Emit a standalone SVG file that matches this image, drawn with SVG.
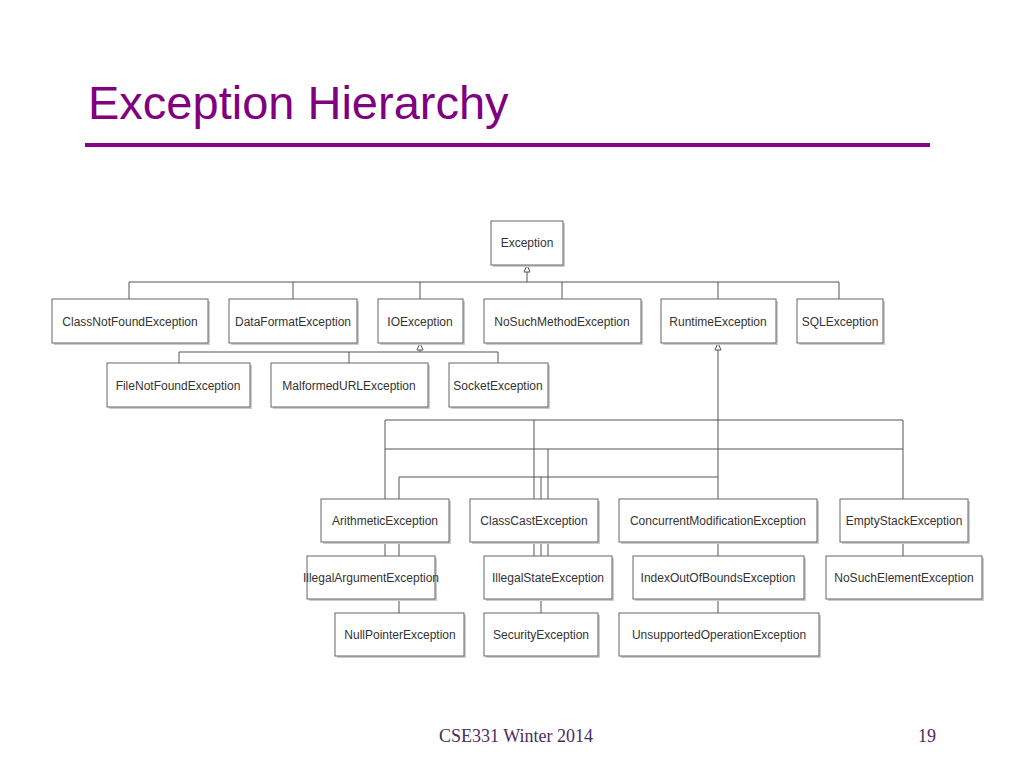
<svg xmlns="http://www.w3.org/2000/svg" width="1024" height="768" viewBox="0 0 1024 768">
<defs>
<style>
.b{fill:#fff;stroke:#666;stroke-width:1}
.s{fill:#ccc}
.t{font-family:"Liberation Sans",Arial,sans-serif;font-size:12px;fill:#333;text-anchor:middle}
.c{stroke:#555;stroke-width:1;fill:none}
.a{fill:#fff;stroke:#555;stroke-width:1}
</style>
</defs>
<rect width="1024" height="768" fill="#fff"/>
<text x="88" y="119" font-family="Liberation Sans,Arial,sans-serif" font-size="47" fill="#800080">Exception Hierarchy</text>
<rect x="85" y="143" width="845" height="4" fill="#8B008B"/>
<g id="connectors">
<path class="c" d="M527 272V282M129 282H839M129 282V299M293 282V299M420 282V299M562 282V299M718 282V299M839 282V299"/>
<path class="a" d="M527 265L524 272H530Z"/>
<path class="c" d="M420 350V352M179 352H498M179 352V363M349 352V363M498 352V363"/>
<path class="a" d="M420 343L417 350H423Z"/>
<path class="c" d="M718 350V499M385 420H903M385 449H903M399 477H718M385 420V499M399 477V499M534 420V499M548 449V499M541 477V499M903 420V499"/>
<path class="a" d="M718 343L715 350H721Z"/>
<path class="c" d="M385 542V556M399 542V556M399 599V613M534 542V556M541 542V556M548 542V556M541 599V613M718 542V556M718 599V613M903 542V556"/>
</g>
<g id="n-Exception"><rect class="s" x="493" y="223" width="72" height="44"/><rect class="b" x="491" y="221" width="72" height="44"/><text class="t" x="527" y="247">Exception</text></g>
<g id="n-ClassNotFound"><rect class="s" x="54" y="301" width="156" height="44"/><rect class="b" x="52" y="299" width="156" height="44"/><text class="t" x="130" y="326">ClassNotFoundException</text></g>
<g id="n-DataFormat"><rect class="s" x="231" y="301" width="128" height="44"/><rect class="b" x="229" y="299" width="128" height="44"/><text class="t" x="293" y="326">DataFormatException</text></g>
<g id="n-IO"><rect class="s" x="380" y="301" width="85" height="44"/><rect class="b" x="378" y="299" width="85" height="44"/><text class="t" x="420" y="326">IOException</text></g>
<g id="n-NoSuchMethod"><rect class="s" x="486" y="301" width="157" height="44"/><rect class="b" x="484" y="299" width="157" height="44"/><text class="t" x="562" y="326">NoSuchMethodException</text></g>
<g id="n-Runtime"><rect class="s" x="663" y="301" width="115" height="44"/><rect class="b" x="661" y="299" width="115" height="44"/><text class="t" x="718" y="326">RuntimeException</text></g>
<g id="n-SQL"><rect class="s" x="799" y="301" width="86" height="44"/><rect class="b" x="797" y="299" width="86" height="44"/><text class="t" x="840" y="326">SQLException</text></g>
<g id="n-FileNotFound"><rect class="s" x="109" y="365" width="143" height="44"/><rect class="b" x="107" y="363" width="143" height="44"/><text class="t" x="178" y="390">FileNotFoundException</text></g>
<g id="n-Malformed"><rect class="s" x="273" y="365" width="157" height="44"/><rect class="b" x="271" y="363" width="157" height="44"/><text class="t" x="349" y="390">MalformedURLException</text></g>
<g id="n-Socket"><rect class="s" x="451" y="365" width="99" height="44"/><rect class="b" x="449" y="363" width="99" height="44"/><text class="t" x="498" y="390">SocketException</text></g>
<g id="n-Arithmetic"><rect class="s" x="323" y="501" width="128" height="43"/><rect class="b" x="321" y="499" width="128" height="43"/><text class="t" x="385" y="525">ArithmeticException</text></g>
<g id="n-ClassCast"><rect class="s" x="472" y="501" width="128" height="43"/><rect class="b" x="470" y="499" width="128" height="43"/><text class="t" x="534" y="525">ClassCastException</text></g>
<g id="n-Concurrent"><rect class="s" x="621" y="501" width="198" height="43"/><rect class="b" x="619" y="499" width="198" height="43"/><text class="t" x="718" y="525">ConcurrentModificationException</text></g>
<g id="n-EmptyStack"><rect class="s" x="842" y="501" width="128" height="43"/><rect class="b" x="840" y="499" width="128" height="43"/><text class="t" x="904" y="525">EmptyStackException</text></g>
<g id="n-IllegalArgument"><rect class="s" x="309" y="558" width="128" height="43"/><rect class="b" x="307" y="556" width="128" height="43"/><text class="t" x="371" y="582">IllegalArgumentException</text></g>
<g id="n-IllegalState"><rect class="s" x="486" y="558" width="128" height="43"/><rect class="b" x="484" y="556" width="128" height="43"/><text class="t" x="548" y="582">IllegalStateException</text></g>
<g id="n-IndexOut"><rect class="s" x="635" y="558" width="171" height="43"/><rect class="b" x="633" y="556" width="171" height="43"/><text class="t" x="718" y="582">IndexOutOfBoundsException</text></g>
<g id="n-NoSuchElement"><rect class="s" x="828" y="558" width="156" height="43"/><rect class="b" x="826" y="556" width="156" height="43"/><text class="t" x="904" y="582">NoSuchElementException</text></g>
<g id="n-NullPointer"><rect class="s" x="337" y="615" width="129" height="43"/><rect class="b" x="335" y="613" width="129" height="43"/><text class="t" x="400" y="639">NullPointerException</text></g>
<g id="n-Security"><rect class="s" x="486" y="615" width="114" height="43"/><rect class="b" x="484" y="613" width="114" height="43"/><text class="t" x="541" y="639">SecurityException</text></g>
<g id="n-Unsupported"><rect class="s" x="621" y="615" width="200" height="43"/><rect class="b" x="619" y="613" width="200" height="43"/><text class="t" x="719" y="639">UnsupportedOperationException</text></g>
<text x="516" y="742" font-family="Liberation Serif,serif" font-size="18" fill="#4b2c5e" text-anchor="middle">CSE331 Winter 2014</text>
<text x="927" y="742" font-family="Liberation Serif,serif" font-size="18" fill="#4b2c5e" text-anchor="middle">19</text>
</svg>
